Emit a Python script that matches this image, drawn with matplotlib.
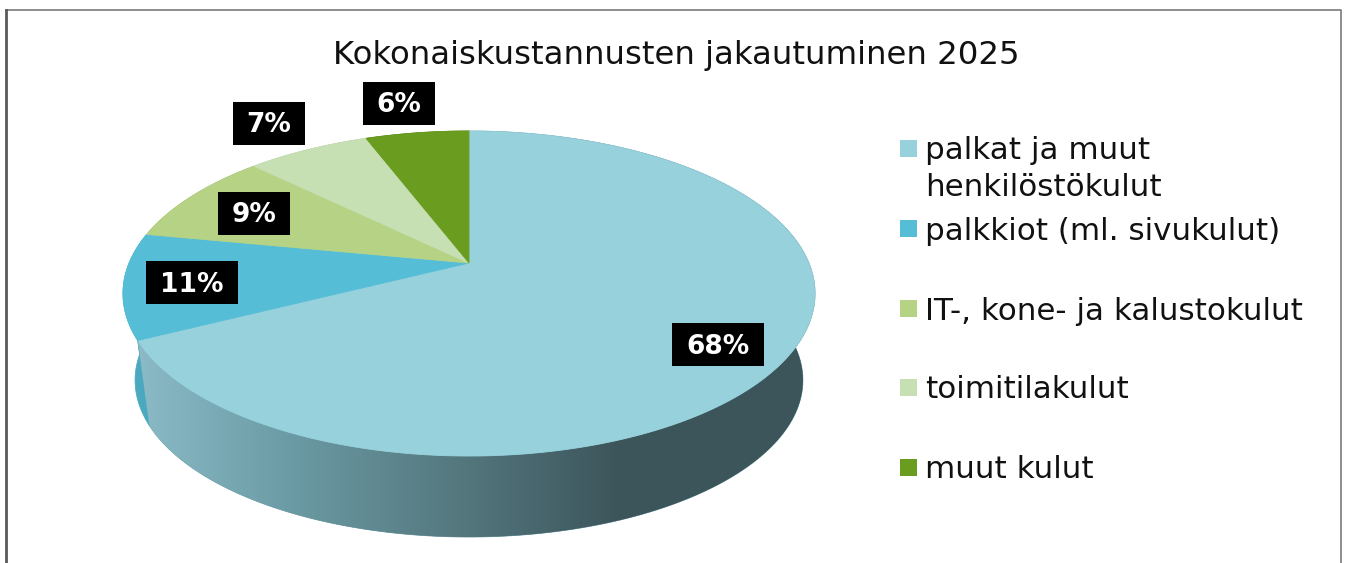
import numpy as np
import matplotlib
matplotlib.use("Agg")
import matplotlib.pyplot as plt
from matplotlib import transforms as mtransforms
from matplotlib.path import Path
from matplotlib.patches import Polygon, Rectangle
from matplotlib.colors import LinearSegmentedColormap

W, H, DPI = 1346, 563, 100

TITLE = "Kokonaiskustannusten jakautuminen 2025"
categories = [
    "palkat ja muut\nhenkilöstökulut",
    "palkkiot (ml. sivukulut)",
    "IT-, kone- ja kalustokulut",
    "toimitilakulut",
    "muut kulut",
]
shares = [67.6, 10.5, 9.3, 6.9, 5.8]
pct_labels = ["68%", "11%", "9%", "7%", "6%"]
colors = ["#96d1dc", "#55bed6", "#b6d385", "#c6e0b4", "#6a9c1f"]
side_colors = ["#6f9ba5", "#4aa8bf", "#93b068", "#a7bf96", "#547c18"]

# label boxes and legend rows (pixel positions)
label_xy = [(718, 344), (192, 282), (254, 213), (269, 123), (399, 103)]
legend_y = [148.5, 228.5, 308.5, 387.5, 467.5]

# tilted pie geometry, pixels
CX, CY = 469, 263
RX, RY, PERSP = 339.9, 156.8, 0.1877
VY, SHRINK = 2771, 0.965


class Tilt(mtransforms.Transform):
    """Unit pie disc -> perspective view in pixel coords."""
    input_dims = output_dims = 2
    is_separable = False
    has_inverse = False

    def transform_non_affine(self, values):
        values = np.asarray(values, float)
        u, v = values[:, 0], values[:, 1]
        w = 1 + PERSP * v
        return np.column_stack([CX + RX * u / w, CY - RY * v / w])

    def transform_path_non_affine(self, path):
        # flatten the bezier arcs first, then bend the points
        pts = []
        for seg, code in path.iter_bezier():
            if code == Path.MOVETO:
                pts.append(seg.control_points)
            else:
                pts.append(seg(np.linspace(0, 1, 30))[1:])
        xy = np.vstack(pts)
        xy = np.vstack([xy, xy[:1]])
        return Path(self.transform_non_affine(xy), closed=True)


fig = plt.figure(figsize=(W / DPI, H / DPI), dpi=DPI)
fig.patch.set_facecolor("white")
ax = fig.add_axes([0, 0, 1, 1])

wedges, _ = ax.pie(shares, colors=colors, startangle=90, counterclock=False,
                   wedgeprops=dict(linewidth=0.6))
tilt = Tilt()
for w, c in zip(wedges, colors):
    w.set_transform(tilt + ax.transData)
    w.set_edgecolor(c)
    w.set_zorder(3)

# side walls
side_cmap = LinearSegmentedColormap.from_list(
    "side", ["#8cbcc8", "#6a9aa3", "#55787f", "#3c555b"])
for i, (w, sc) in enumerate(zip(wedges, side_colors)):
    t = np.radians(np.linspace(w.theta1, w.theta2, 200))
    top = tilt.transform_non_affine(np.column_stack([np.cos(t), np.sin(t)]))
    bot = np.column_stack([CX + SHRINK * (top[:, 0] - CX),
                           VY + SHRINK * (top[:, 1] - VY)])
    poly = Polygon(np.vstack([top, bot[::-1]]), closed=True,
                   facecolor=sc, edgecolor=sc, lw=0.5, zorder=1)
    ax.add_patch(poly)
    if i == 0:
        xs = np.linspace(100, 840, 400)
        grad = np.clip((xs - 130) / 490, 0, 1)[None, :]
        im = ax.imshow(grad, cmap=side_cmap, extent=(100, 840, 560, 120),
                       aspect="auto", zorder=2, interpolation="bilinear")
        im.set_clip_path(poly)

# percentage labels
for (x, y), s in zip(label_xy, pct_labels):
    bw = 32 + 20 * len(s)
    ax.add_patch(Rectangle((x - bw / 2, y - 21.5), bw, 43, fc="black",
                           ec="none", zorder=5))
    ax.text(x, y + 9.5, s, color="white", fontsize=19, fontweight="bold",
            ha="center", va="baseline", zorder=6)

# legend
for yc, lab, c in zip(legend_y, categories, colors):
    ax.add_patch(Rectangle((900, yc - 8.5), 17, 17, fc=c, ec="none"))
    extra = 36 * lab.count("\n")  # baseline sits on the last line
    ax.text(925, yc + 11 + extra, lab, fontsize=22.3, va="baseline",
            linespacing=1.33, color="#111111")

ax.text(676, 64, TITLE, fontsize=23.3, ha="center", va="baseline",
        color="#111111")

# chart frame (left edge a bit heavier, as in the original)
ax.plot([1341, 1341, 6], [H + 5, 10, 10], color="#7a7a7a",
        lw=1.2, clip_on=False, zorder=0)
ax.plot([6, 6], [10, H + 5], color="#5a5a5a", lw=2.0, clip_on=False, zorder=0)

ax.set_xlim(0, W)
ax.set_ylim(H, 0)
ax.set_aspect("auto")
ax.axis("off")

fig.savefig("out.png", dpi=DPI, facecolor="white")
